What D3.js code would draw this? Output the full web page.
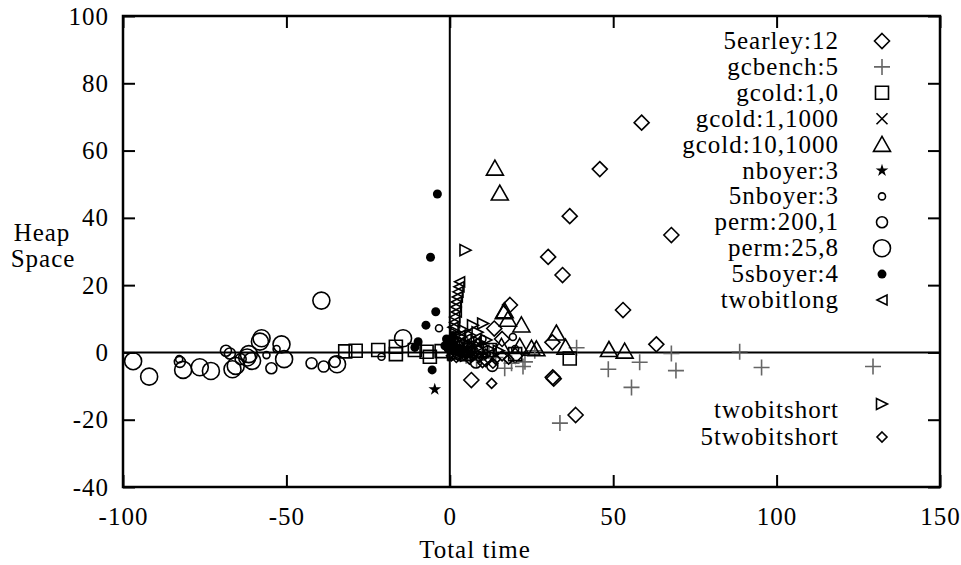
<!DOCTYPE html>
<html>
<head>
<meta charset="utf-8">
<script src="https://cdn.jsdelivr.net/npm/d3@7"></script>
<style>
  body { margin: 0; background: #fff; }
</style>
</head>
<body>
<svg id="chart" width="961" height="565"></svg>
<script>
// series values: [total time, heap space]
const earley5 = [[58.7,68.3],[45.9,54.5],[36.7,40.5],[67.8,34.9],[30.1,28.4],[34.5,23],[18.4,14.1],
  [53,12.6],[13.6,7.1],[31.4,3],[63.2,2.4],[6.6,-8.2],[31.5,-7.4],[31.8,-7.8],[38.5,-18.6],[16,4],[8,1],[20,-1],[11,-2]];
const gcbench = [[8.2,-2.3],[12,0.5],[16.8,-4.7],[18.9,-3.2],[22.4,-4.2],[23,-2.8],[26,0.5],[33.7,-21],
  [38.8,1.4],[48.5,-5],[55.6,-10.4],[58.1,-2.9],[67.8,-0.3],[69.2,-5.4],[88.7,0.2],[95.4,-4.5],[129.5,-4.2],[5,-1],[14,-1.5]];
const gcold10 = [[-32,0.3],[-28.8,0.5],[-21.9,0.7],[-16.5,1.7],[-16.5,-0.5],[-10.7,0.7],[-7.1,0.2],[-6.1,-1.3],
  [-2.5,0.4],[2,0],[5,-0.5],[12.2,0.7],[20,-0.5],[36.7,-1.8]];
const gcold11000 = [[3,1],[6,0.5],[1,-1],[1,2],[4,-0.5],[7,2.5]];
const gcold101000 = [[13.8,54.7],[15.3,47.3],[16.5,12],[16.8,12.3],[17.8,9.8],[21.9,8.1],[32.6,5.7],[15.8,1.7],
  [21.4,1.7],[25,1.2],[26.5,1],[35.4,1.5],[48.7,0.8],[53.5,0.3],[3,2],[6,1],[9,0.5]];
const nboyer3 = [[-4.6,-11],[0.5,1]];
const nboyer5 = [[-82.8,-2],[-56.1,-0.8],[-53,1],[-20.9,-1.3],[-3.3,7.2],[2,3],[10,4],[19.3,4.6],[20,1]];
const perm2001 = [[-82.6,-2.8],[-68.5,0.5],[-67.3,-0.3],[-64,-2],[-54.6,-4.7],[-42.3,-3.2],[-38.6,-4.2],[-35.2,-2.8],
  [5,1],[8,-3],[13,-4]];
const perm258 = [[-96.9,-2.6],[-92,-7.2],[-81.6,-5.2],[-76.5,-4.4],[-73.1,-5.5],[-66.5,-5],[-65.5,-4],[-62,-1.5],
  [-60.5,-2.5],[-61.5,-0.5],[-57.6,4.2],[-58.1,3.2],[-51.5,2.4],[-50.7,-2],[-39.3,15.4],[-34.5,-3.5],[-14.3,4.2]];
const sboyer5 = [[-3.8,47.1],[-5.9,28.3],[-4.3,12.1],[-7.3,8.1],[-9.7,3.2],[-10.7,1.5],[-5.4,-5.2],
  [-1,4],[0,2.5],[1,5],[-0.5,1],[1.5,0.5],[0.5,3.5],[2,1.5],[-1.5,2]];
const twobitlong = [[3,21],[2.8,19.5],[2.5,18],[2.3,16.5],[2,15],[1.8,13.5],[2,12],[1.5,10.5],[1.5,9],[1,7.5],
  [3,5],[5,4],[8,3],[4,2],[6,1],[10,0.5],[2,0]];
const twobitshort = [[4.8,30.4],[10.2,8.6],[7.1,8.1],[11.2,3.7],[2,6],[4,3],[3,1],[6,2],[8,-1],[1,-0.5],[5,-1],
  [1.5,2],[3.5,4.5],[6.5,5],[9,3],[2.5,-0.5],[7,0.5],[12,1],[15,0.5],[4.5,6.5],[8.5,6]];
const twobitshort5 = [[12.8,-9.2],[0.5,-1],[2,-1.5],[4,0],[6,-2],[10,-3],[14,-2],[3,2],
  [1,1],[2.5,0.5],[5,-0.5],[7,-1],[9,-1.5],[11,-0.5],[16,-1],[18,-2],[13.2,-3.2]];

const xTicks = [-100, -50, 0, 50, 100, 150];
const yTicks = [-40, -20, 0, 20, 40, 60, 80, 100];

const FONT = "'Liberation Serif', 'Times New Roman', serif";
const svg = d3.select("#chart");
const plot = { left: 123, right: 940, top: 16, bottom: 487 };

const x = d3.scaleLinear().domain([-100, 150]).range([plot.left, plot.right]);
const y = d3.scaleLinear().domain([-40, 100]).range([plot.bottom, plot.top]);

// marker shapes, gnuplot postscript style
function diamond(s) { return `M0,${-s}L${s},0L0,${s}L${-s},0Z`; }
function plus(s) { return `M${-s},0H${s}M0,${-s}V${s}`; }
function square(s) { return `M${-s},${-s}H${s}V${s}H${-s}Z`; }
function cross(s) { return `M${-s},${-s}L${s},${s}M${-s},${s}L${s},${-s}`; }
function triUp(w, h) { return `M0,${-h * 0.55}L${w},${h * 0.45}L${-w},${h * 0.45}Z`; }
function triLeft(s) { return `M${-s},0L${s},${-s}L${s},${s}Z`; }
function triRight(s) { return `M${s},0L${-s},${-s}L${-s},${s}Z`; }
function circle(r) { return `M${r},0A${r},${r} 0 1,1 ${-r},0A${r},${r} 0 1,1 ${r},0Z`; }
const star = d3.symbol(d3.symbolStar, 50)();

const series = [
  { name: "5earley:12", data: earley5, d: diamond(7.5), fill: "none", stroke: "#000" },
  { name: "gcbench:5", data: gcbench, d: plus(8), fill: "none", stroke: "#666" },
  { name: "gcold:1,0", data: gcold10, d: square(6.5), fill: "none", stroke: "#000" },
  { name: "gcold:1,1000", data: gcold11000, d: cross(5.5), fill: "none", stroke: "#000" },
  { name: "gcold:10,1000", data: gcold101000, d: triUp(8.5, 15), fill: "none", stroke: "#000" },
  { name: "nboyer:3", data: nboyer3, d: star, fill: "#000", stroke: "none" },
  { name: "5nboyer:3", data: nboyer5, d: circle(3.5), fill: "none", stroke: "#000" },
  { name: "perm:200,1", data: perm2001, d: circle(5.5), fill: "none", stroke: "#000" },
  { name: "perm:25,8", data: perm258, d: circle(8.5), fill: "none", stroke: "#000" },
  { name: "5sboyer:4", data: sboyer5, d: circle(4.5), fill: "#000", stroke: "none" },
  { name: "twobitlong", data: twobitlong, d: triLeft(5), fill: "none", stroke: "#000" },
  { name: "twobitshort", data: twobitshort, d: triRight(5.5), fill: "none", stroke: "#000" },
  { name: "5twobitshort", data: twobitshort5, d: diamond(5), fill: "none", stroke: "#000" }
];

// zero axes
svg.append("line").attr("x1", plot.left).attr("x2", plot.right).attr("y1", y(0)).attr("y2", y(0))
  .attr("stroke", "#000").attr("stroke-width", 2);
svg.append("line").attr("x1", x(0)).attr("x2", x(0)).attr("y1", plot.top).attr("y2", plot.bottom)
  .attr("stroke", "#000").attr("stroke-width", 2);

// points
series.forEach(s => {
  svg.append("g").selectAll("path")
    .data(s.data)
    .enter()
    .append("path")
    .attr("d", s.d)
    .attr("transform", d => `translate(${x(d[0])},${y(d[1])})`)
    .attr("fill", s.fill)
    .attr("stroke", s.stroke)
    .attr("stroke-width", 1.6);
});

// axes, ticks pointing inward, mirrored on top and right
const plain = d => String(d);
svg.append("g").attr("transform", `translate(0,${plot.bottom})`)
  .call(d3.axisBottom(x).tickValues(xTicks).tickSize(-12).tickPadding(20).tickFormat(plain));
svg.append("g").attr("transform", `translate(${plot.left},0)`)
  .call(d3.axisLeft(y).tickValues(yTicks).tickSize(-12).tickPadding(14).tickFormat(plain));
svg.append("g").attr("transform", `translate(0,${plot.top})`)
  .call(d3.axisTop(x).tickValues(xTicks).tickSize(-12).tickFormat(""));
svg.append("g").attr("transform", `translate(${plot.right},0)`)
  .call(d3.axisRight(y).tickValues(yTicks).tickSize(-12).tickFormat(""));

svg.selectAll(".domain").remove();
svg.selectAll(".tick line").attr("stroke", "#000").attr("stroke-width", 2);

svg.append("rect").attr("x", plot.left).attr("y", plot.top)
  .attr("width", plot.right - plot.left).attr("height", plot.bottom - plot.top)
  .attr("fill", "none").attr("stroke", "#000").attr("stroke-width", 2.5);

// axis labels
svg.append("text").attr("x", 42).attr("y", 241).attr("text-anchor", "middle").text("Heap");
svg.append("text").attr("x", 43).attr("y", 267).attr("text-anchor", "middle").text("Space");
svg.append("text").attr("x", 475).attr("y", 558).attr("text-anchor", "middle").text("Total time");

// key: eleven rows at the top, last two on their own lower down
const keyRows = series.map((s, i) => i < 11
  ? { s, ty: 41 + i * 25.9, sy: 41 + i * 25.9 }
  : { s, ty: 410 + (i - 11) * 26.5, sy: 404 + (i - 11) * 33 });
const key = svg.append("g").selectAll("g").data(keyRows).enter().append("g");
key.append("text").attr("x", 839).attr("y", d => d.ty).attr("dy", "0.32em")
  .attr("text-anchor", "end").text(d => d.s.name);
key.append("path")
  .attr("d", d => d.s.d)
  .attr("transform", d => `translate(882,${d.sy})`)
  .attr("fill", d => d.s.fill)
  .attr("stroke", d => d.s.stroke)
  .attr("stroke-width", 1.6);

svg.selectAll("text")
  .attr("font-family", FONT)
  .attr("font-size", 25)
  .attr("fill", "#000")
  .style("font-family", FONT)
  .style("letter-spacing", "1px");
</script>
</body>
</html>
